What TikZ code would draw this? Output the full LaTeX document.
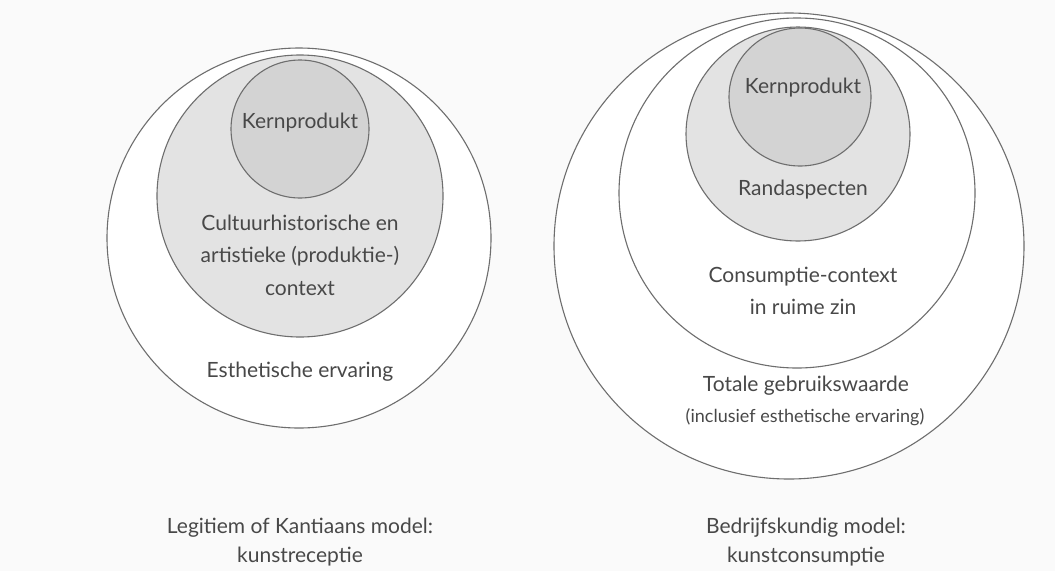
\documentclass[tikz,border=0pt]{standalone}
\usepackage{fontspec}
\setmainfont{Lato}
\definecolor{linegray}{HTML}{6E6E6E}
\definecolor{textgray}{HTML}{484848}
\definecolor{ringfill}{HTML}{E3E3E3}
\definecolor{corefill}{HTML}{D3D3D3}

\begin{document}
\begin{tikzpicture}[x=1pt, y=-1pt,
    ring/.style = {draw=linegray, line width=1.1pt},
    txt/.style = {text=textgray, align=center, font=\fontsize{21}{32.5}\selectfont},
    smalltxt/.style = {text=textgray, align=center, font=\fontsize{18}{22}\selectfont},
    captxt/.style = {text=textgray, align=center, font=\fontsize{21}{29}\selectfont}]

      \fill[white!98!black] (0,0) rectangle (1055,571);
      \useasboundingbox (0,0) rectangle (1055,571);

      % kunstreceptie
      \draw[ring, fill=white] (299,238) ellipse [x radius=192, y radius=190];
      \draw[ring, fill=ringfill] (300,196) ellipse [x radius=143, y radius=141];
      \draw[ring, fill=corefill] (300,129) ellipse [x radius=69, y radius=69];

      \node[txt] (kernL) at (300,123) {Kernprodukt};
      \node[txt] (contextL) at (300,255) {Cultuurhistorische en\\artistieke (produktie-)\\context};
      \node[txt] (esthL) at (300,372) {Esthetische ervaring};
      \node[captxt] (modelL) at (300,542) {Legitiem of Kantiaans model:\\kunstreceptie};

      % kunstconsumptie
      \draw[ring, fill=white] (789,246) ellipse [x radius=235, y radius=233];
      \draw[ring, fill=white] (797,193) ellipse [x radius=178, y radius=175];
      \draw[ring, fill=ringfill] (798,134) ellipse [x radius=112, y radius=107];
      \draw[ring, fill=corefill] (800,97) ellipse [x radius=71, y radius=69];

      \node[txt] (kernR) at (803,88) {Kernprodukt};
      \node[txt] (randR) at (803,190) {Randaspecten};
      \node[txt] (consR) at (803,291) {Consumptie-context\\in ruime zin};
      \node[txt] (totR) at (806,386) {Totale gebruikswaarde};
      \node[smalltxt] (inclR) at (805,417) {(inclusief esthetische ervaring)};
      \node[captxt] (modelR) at (806,542) {Bedrijfskundig model:\\kunstconsumptie};

    \end{tikzpicture}
\end{document}
